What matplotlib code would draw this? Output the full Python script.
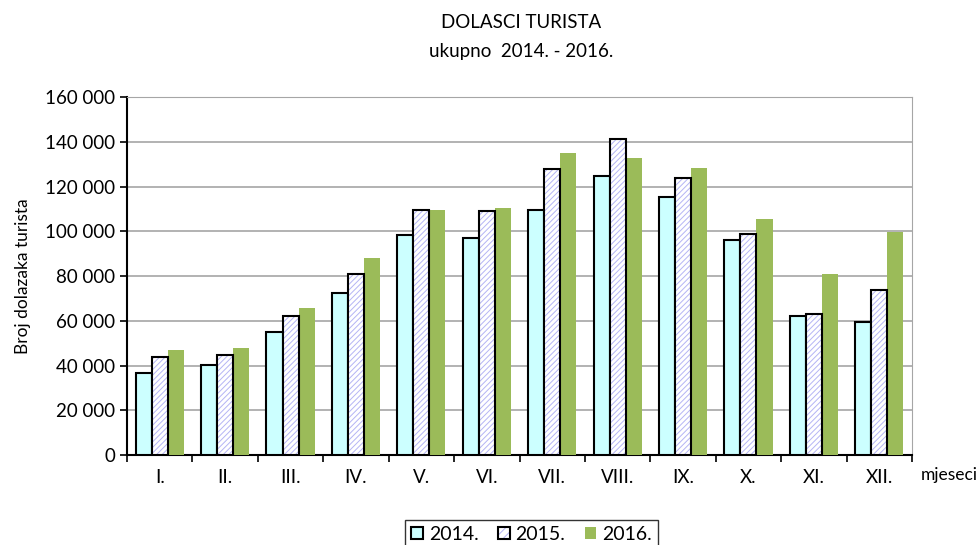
import numpy as np
import matplotlib
matplotlib.use("Agg")
import matplotlib.pyplot as plt
from matplotlib.patches import Patch

plt.rcParams['font.family'] = ['Lato', 'DejaVu Sans']
plt.rcParams['hatch.linewidth'] = 0.7

# podaci
mjeseci = ['I.', 'II.', 'III.', 'IV.', 'V.', 'VI.', 'VII.', 'VIII.', 'IX.', 'X.', 'XI.', 'XII.']
god_2014 = [36600, 40200, 55000, 72400, 98300, 97000, 109500, 124700, 115400, 96000, 62300, 59600]
god_2015 = [43800, 44700, 62200, 80900, 109500, 109000, 128000, 141100, 123700, 98900, 63000, 73700]
god_2016 = [46900, 47800, 65700, 88000, 109500, 110500, 135000, 132600, 128400, 105600, 80900, 99700]
godine = ['2014.', '2015.', '2016.']

fig = plt.figure(figsize=(9.79, 5.45), dpi=100)
ax = fig.add_axes([0.1297, 0.165, 0.8019, 0.657])

x = np.arange(len(mjeseci))
w = 0.245

# 2014 - svijetlo plava s crnim rubom
ax.bar(x - w, god_2014, w, color='#ccffff', edgecolor='black', linewidth=1.5, zorder=3)
# 2015 - bijela s plavim crticama
ax.bar(x, god_2015, w, color='white', edgecolor='#b4b4f4', hatch='//////', linewidth=0, zorder=3)
ax.bar(x, god_2015, w, fill=False, edgecolor='black', linewidth=1.5, zorder=4)
# 2016 - zelena
ax.bar(x + w, god_2016, w, color='#9bbb59', edgecolor='none', zorder=3)

ax.set_xlim(-0.5, 11.5)
ax.set_ylim(0, 160000)
ax.set_yticks(np.arange(0, 160001, 20000))
ax.set_yticklabels([f"{v:,}".replace(',', ' ') for v in range(0, 160001, 20000)], fontsize=13.5)
ax.yaxis.grid(True, color='#a6a6a6', linewidth=1.2, zorder=0)

ax.set_xticks(np.arange(-0.5, 12, 1))
ax.set_xticklabels([])
ax.set_xticks(x, minor=True)
ax.set_xticklabels(mjeseci, minor=True, fontsize=13.5)
ax.tick_params(axis='x', which='minor', length=0, pad=10)
ax.tick_params(axis='x', which='major', direction='out', length=5, width=1.2)
ax.tick_params(axis='y', direction='out', length=5, width=1.2)

for s in ['left', 'bottom']:
    ax.spines[s].set_linewidth(1.5)
ax.spines['right'].set_color('#a6a6a6')
ax.spines['top'].set_color('#a6a6a6')

ax.set_ylabel('Broj dolazaka turista', fontsize=12.5, labelpad=10)
fig.text(0.94, 0.128, 'mjeseci', fontsize=12.5, ha='left', va='center')

fig.text(0.532, 0.958, 'DOLASCI TURISTA', fontsize=13.5, ha='center', va='center')
fig.text(0.532, 0.906, 'ukupno  2014. - 2016.', fontsize=13.5, ha='center', va='center')

h2015 = (Patch(facecolor='white', edgecolor='#b4b4f4', hatch='////', linewidth=0),
         Patch(fill=False, edgecolor='black', linewidth=1.5))
handles = [Patch(facecolor='#ccffff', edgecolor='black', linewidth=1.5),
           h2015,
           Patch(facecolor='#9bbb59', edgecolor='none')]
leg = fig.legend(handles, godine, loc='center', bbox_to_anchor=(0.543, 0.02), ncol=3,
                 fontsize=14, frameon=True, fancybox=False, edgecolor='black',
                 handlelength=0.6, handleheight=0.6, columnspacing=1.0, handletextpad=0.3,
                 borderpad=0.3)
leg.get_frame().set_linewidth(1.0)

fig.savefig('out.png', dpi=100)
